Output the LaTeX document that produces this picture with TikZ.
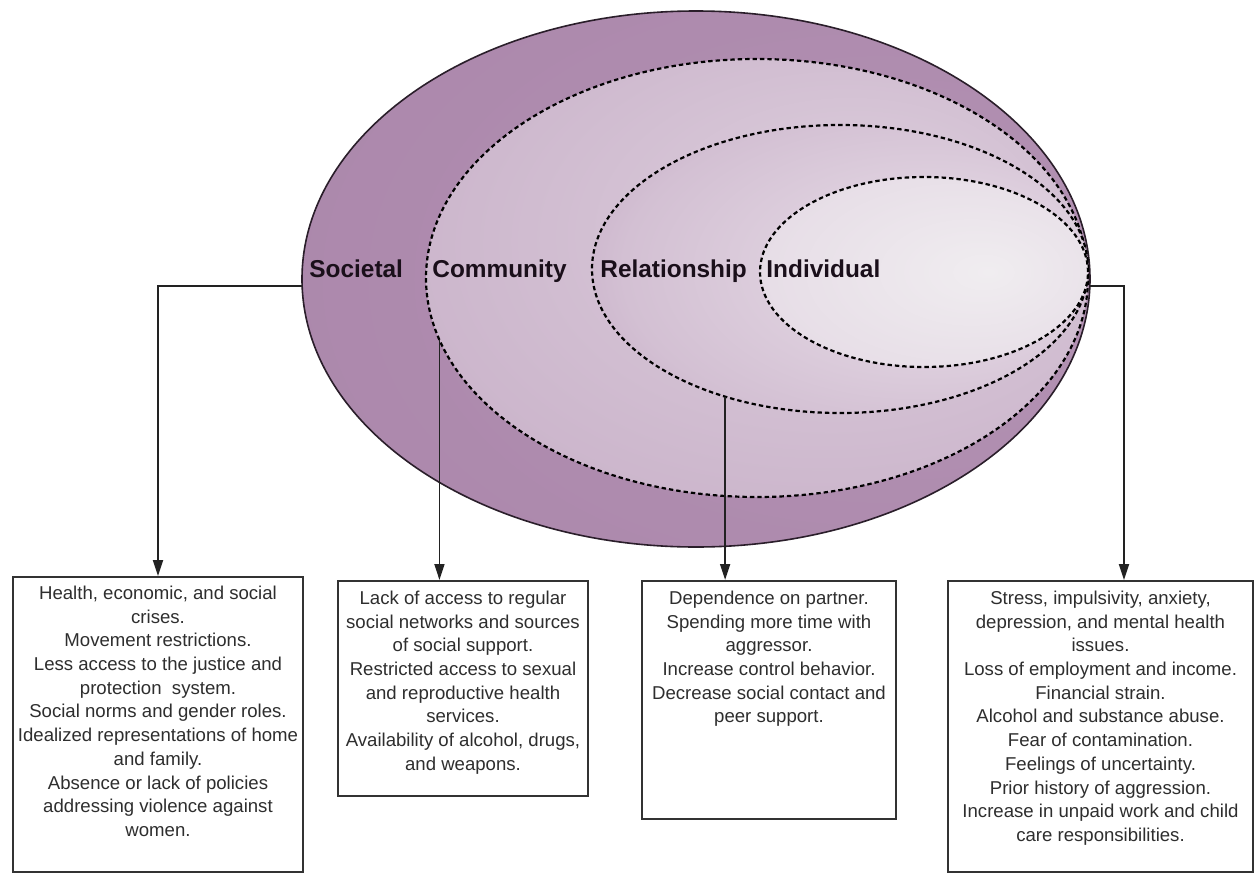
\documentclass[tikz,border=0pt]{standalone}
\usepackage{fontspec}
\setmainfont{Liberation Sans}
\usetikzlibrary{shapes.geometric,arrows.meta,calc}

\definecolor{cO1}{HTML}{B494B4}
\definecolor{cO2}{HTML}{A882A8}
\definecolor{cC1}{HTML}{DDCFDD}
\definecolor{cC2}{HTML}{CCB6CC}
\definecolor{cC3}{HTML}{AE8AAE}
\definecolor{cR1}{HTML}{EAE1EA}
\definecolor{cR2}{HTML}{D3C0D3}
\definecolor{cR3}{HTML}{AF8AAF}
\definecolor{cI1}{HTML}{F0EDF0}
\definecolor{cI2}{HTML}{E7DEE7}
\definecolor{cI3}{HTML}{CDB5CD}
\definecolor{outline}{HTML}{2A1E2A}
\definecolor{labelc}{HTML}{1A0F1A}
\definecolor{textc}{HTML}{2E2E2E}
\definecolor{boxc}{HTML}{333333}
\definecolor{connc}{HTML}{222222}

\pgfdeclareradialshading{shOuter}{\pgfpoint{20bp}{0bp}}{color(0bp)=(cO1); color(50bp)=(cO2)}
\pgfdeclareradialshading{shComm}{\pgfpoint{10bp}{8bp}}{color(0bp)=(cC1); color(30bp)=(cC2); color(50bp)=(cC3)}
\pgfdeclareradialshading{shRel}{\pgfpoint{14bp}{0bp}}{color(0bp)=(cR1); color(28bp)=(cR2); color(50bp)=(cR3)}
\pgfdeclareradialshading{shInd}{\pgfpoint{10bp}{0bp}}{color(0bp)=(cI1); color(28bp)=(cI2); color(50bp)=(cI3)}

\begin{document}
\begin{tikzpicture}[x=0.5pt,y=-0.5pt,
  ring/.style={ellipse, inner sep=0pt, outer sep=0pt},
  dashring/.style={ring, draw=black, dash pattern=on 2.2pt off 1.5pt, line width=1.1pt},
  lbl/.style={font=\fontsize{12.2pt}{14pt}\selectfont\bfseries, text=labelc, inner sep=0pt, anchor=base west},
  infobox/.style={draw=boxc, line width=1pt, inner sep=0pt, anchor=north west, text=textc,
    font=\fontsize{9.3pt}{11.85pt}\selectfont},
  conn/.style={draw=connc, line width=0.9pt, -{Triangle[width=5pt,length=8pt]}}]
\useasboundingbox (0,0) rectangle (1254,873);
\fill[white] (0,0) rectangle (1254,873);

% nested ellipses
\node[ring, shade, shading=shOuter, draw=outline, line width=0.8pt,
      minimum width=394pt, minimum height=268pt] (outer) at (696,279) {};
\node[dashring, shade, shading=shComm, minimum width=331pt, minimum height=219pt] (comm) at (757,278) {};
\node[dashring, shade, shading=shRel, minimum width=248pt, minimum height=144pt] (rel) at (840,269) {};
\node[dashring, shade, shading=shInd, minimum width=164pt, minimum height=95pt] (ind) at (924,272) {};

% labels
\node[lbl] (lsoc) at (309,277) {Societal};
\node[lbl] (lcom) at (432,277) {Community};
\node[lbl] (lrel) at (600,277) {Relationship};
\node[lbl] (lind) at (766,277) {Individual};

% boxes
\node[infobox] (b1) at (12,576) {\parbox[t][147.5pt][t]{145pt}{\centering\vspace*{4.5pt}%
Health, economic, and social\\
crises.\\
Movement restrictions.\\
Less access to the justice and\\
protection\ \ system.\\
Social norms and gender roles.\\
Idealized representations of home\\
and family.\\
Absence or lack of policies\\
addressing violence against\\
women.}};

\node[infobox] (b2) at (337,580) {\parbox[t][107.5pt][t]{125pt}{\centering\vspace*{5pt}%
Lack of access to regular\\
social networks and sources\\
of social support.\\
Restricted access to sexual\\
and reproductive health\\
services.\\
Availability of alcohol, drugs,\\
and weapons.}};

\node[infobox] (b3) at (641,580) {\parbox[t][119pt][t]{127pt}{\centering\vspace*{5pt}%
Dependence on partner.\\
Spending more time with\\
aggressor.\\
Increase control behavior.\\
Decrease social contact and\\
peer support.}};

\node[infobox] (b4) at (947,580) {\parbox[t][145.5pt][t]{152.5pt}{\centering\vspace*{5pt}%
Stress, impulsivity, anxiety,\\
depression, and mental health\\
issues.\\
Loss of employment and income.\\
Financial strain.\\
Alcohol and substance abuse.\\
Fear of contamination.\\
Feelings of uncertainty.\\
Prior history of aggression.\\
Increase in unpaid work and child\\
care responsibilities.}};

% connectors
\draw[conn] (outer.181) -| (b1.north);
\draw[conn] (comm.191) -- (comm.191 |- b2.north);
\draw[conn] (rel.228) -- (rel.228 |- b3.north);
\draw[conn] (outer.-1) -| ([xshift=11.75pt]b4.north);
\end{tikzpicture}
\end{document}
